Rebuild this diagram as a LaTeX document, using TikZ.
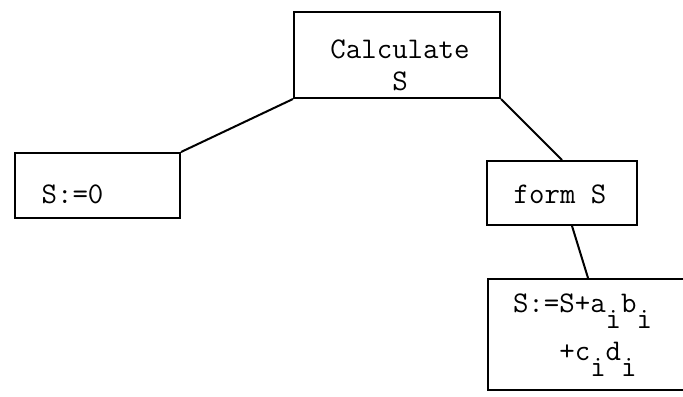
\documentclass[tikz,border=0pt]{standalone}
\usepackage{fontspec}
\newcommand{\lo}[1]{\raisebox{-0.55em}{#1}}
\begin{document}
\begin{tikzpicture}[x=0.5pt, y=-0.5pt, line width=1pt,
  box/.style={draw, inner sep=0pt},
  txt/.style={inner sep=0pt, font=\fontsize{15}{16}\selectfont\ttfamily}]
\useasboundingbox (0,0) rectangle (683,396);
\clip (0,0) rectangle (683,396);
\node[box, minimum width=103pt, minimum height=43pt] (calc) at (397,55) {};
\node[box, minimum width=82.5pt, minimum height=32.5pt] (zero) at (97.5,185.5) {};
\node[box, minimum width=75pt, minimum height=32pt] (form) at (562,193) {};
\node[box, minimum width=106pt, minimum height=55.5pt] (upd) at (594,334.5) {};
% multi-line text: base is the last line
\node[txt, anchor=base, align=center] (calc text) at (400,90) {Calculate\\S};
\node[txt, anchor=base] (zero text) at (72.5,203) {S:=0};
\node[txt, anchor=base] (form text) at (560,203) {form S};
\node[txt, anchor=base west, align=left, font=\fontsize{15}{24}\selectfont\ttfamily] (upd text) at (512,360)
  {S:=S+a\lo{i}b\lo{i}\\\phantom{S:=}+c\lo{i}d\lo{i}};
\draw (calc.south west) -- (zero.north east);
\draw (calc.south east) -- (form.north);
\draw ([xshift=5pt]form.south) -- ([xshift=-3pt]upd.north);
\end{tikzpicture}
\end{document}
